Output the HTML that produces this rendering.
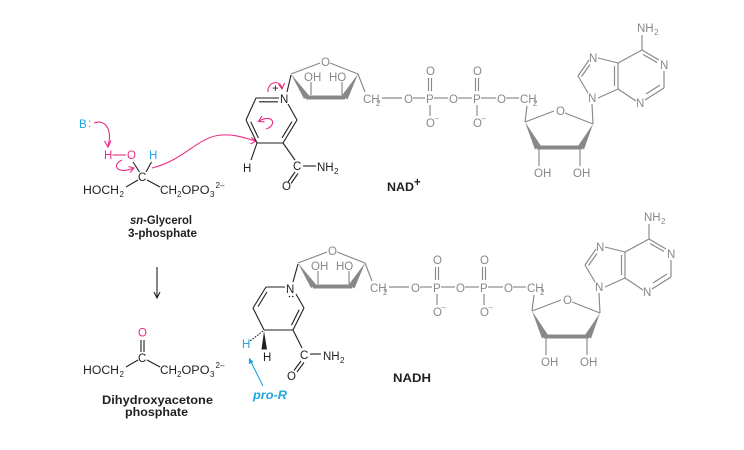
<!DOCTYPE html>
<html><head><meta charset="utf-8"><style>
html,body{margin:0;padding:0;background:#fff;}
svg{display:block;}
text{font-family:"Liberation Sans",sans-serif;}
.k{fill:#231f20;font-size:11.5px;}
.g{fill:#888888;font-size:11.5px;}
.s{font-size:8px;}
.b{font-weight:bold;}
.pk{fill:#ec2a85;font-size:11.5px;}
.bl{fill:#1fa5df;font-size:11.5px;}
</style></head><body>
<svg width="744" height="450" viewBox="0 0 744 450" xmlns="http://www.w3.org/2000/svg">
<rect width="744" height="450" fill="#fff"/>

<!-- ===== sn-Glycerol 3-phosphate ===== -->
<text class="bl" x="79" y="128">B</text><text class="bl" x="88" y="127">:</text>
<path d="M94,123 C104,119 113,128 108,146" fill="none" stroke="#ec2a85" stroke-width="1.1"/>
<polyline points="104.5,141 108,147 111,140.5" fill="none" stroke="#ec2a85" stroke-width="1.1"/>
<text class="pk" x="104" y="159">H</text>
<line x1="112.5" y1="155" x2="126" y2="155" stroke="#ec2a85" stroke-width="1.1"/>
<text class="pk" x="127" y="159">O</text>
<text class="bl" x="149" y="159">H</text>
<path d="M122,160 C111,165 117,175 134,168" fill="none" stroke="#ec2a85" stroke-width="1.1"/>
<polyline points="128.5,166.5 134,168 130,172.5" fill="none" stroke="#ec2a85" stroke-width="1.1"/>
<path d="M152,168 C185,160 198,136 222,135 C238,134 246,139 256,141" fill="none" stroke="#ec2a85" stroke-width="1.1"/>
<polyline points="251,137.5 256,141 250.5,144" fill="none" stroke="#ec2a85" stroke-width="1.1"/>
<text class="k" x="138" y="181">C</text>
<g stroke="#231f20" stroke-width="1.1">
<line x1="133" y1="162" x2="139.5" y2="172"/>
<line x1="151.5" y1="162" x2="146" y2="172"/>
<line x1="138" y1="180" x2="126" y2="187"/>
<line x1="147" y1="180" x2="160" y2="187"/>
</g>
<text class="k" x="83" y="194" textLength="36" lengthAdjust="spacingAndGlyphs">HOCH</text><text class="k s" x="119.5" y="197">2</text>
<text class="k" x="160" y="194" textLength="17" lengthAdjust="spacingAndGlyphs">CH</text><text class="k s" x="177" y="197">2</text>
<text class="k" x="181.5" y="194" textLength="28" lengthAdjust="spacingAndGlyphs">OPO</text><text class="k s" x="210" y="197">3</text>
<text class="k s" x="215.5" y="188">2–</text>
<text class="k b" x="130" y="224" font-size="12" textLength="62" lengthAdjust="spacingAndGlyphs"><tspan font-style="italic">sn</tspan>-Glycerol</text>
<text class="k b" x="128" y="237" font-size="12" textLength="69" lengthAdjust="spacingAndGlyphs">3-phosphate</text>

<!-- arrow down -->
<line x1="157" y1="267" x2="157" y2="298" stroke="#231f20" stroke-width="1.1"/>
<polyline points="154,292 157,298 160,292" fill="none" stroke="#231f20" stroke-width="1.1"/>

<!-- ===== DHAP ===== -->
<text class="pk" x="138" y="336.5">O</text>
<line x1="141" y1="340" x2="141" y2="352" stroke="#231f20" stroke-width="1.1"/>
<line x1="144" y1="340" x2="144" y2="352" stroke="#231f20" stroke-width="1.1"/>
<text class="k" x="138" y="362">C</text>
<g stroke="#231f20" stroke-width="1.1">
<line x1="138" y1="360" x2="126" y2="367"/>
<line x1="147" y1="360" x2="160" y2="367"/>
</g>
<text class="k" x="83" y="374" textLength="36" lengthAdjust="spacingAndGlyphs">HOCH</text><text class="k s" x="119.5" y="377">2</text>
<text class="k" x="160" y="374" textLength="17" lengthAdjust="spacingAndGlyphs">CH</text><text class="k s" x="177" y="377">2</text>
<text class="k" x="181.5" y="374" textLength="28" lengthAdjust="spacingAndGlyphs">OPO</text><text class="k s" x="210" y="377">3</text>
<text class="k s" x="215.5" y="368">2–</text>
<text class="k b" x="102" y="404" font-size="12" textLength="111" lengthAdjust="spacingAndGlyphs">Dihydroxyacetone</text>
<text class="k b" x="125" y="416" font-size="12" textLength="63" lengthAdjust="spacingAndGlyphs">phosphate</text>

<!-- ===== NAD+ nicotinamide ring ===== -->
<g stroke="#231f20" stroke-width="1.1" fill="none">
<line x1="256" y1="98" x2="279" y2="98"/>
<line x1="259" y1="101.8" x2="278" y2="101.8"/>
<line x1="288" y1="104" x2="297" y2="120"/>
<line x1="297" y1="120" x2="283" y2="143"/>
<line x1="291.9" y1="121.7" x2="282.1" y2="137.8"/>
<line x1="283" y1="143" x2="257" y2="143"/>
<line x1="257" y1="143" x2="246" y2="120"/>
<line x1="258.4" y1="137.9" x2="250.7" y2="121.8"/>
<line x1="246" y1="120" x2="256" y2="98"/>
<line x1="257" y1="143" x2="251" y2="160"/>
<line x1="283" y1="143" x2="295" y2="160"/>
<line x1="303" y1="166" x2="316" y2="166"/>
<line x1="295" y1="172" x2="288" y2="182"/>
<line x1="298" y1="173.5" x2="291" y2="183.5"/>
<line x1="287" y1="92" x2="291" y2="75"/>
</g>
<text class="k" x="280" y="103">N</text>
<text class="k" x="272" y="92" font-size="9">+</text>
<text class="k" x="243" y="172">H</text>
<text class="k" x="293" y="170">C</text>
<text class="k" x="317" y="171">NH</text><text class="k s" x="334" y="174">2</text>
<text class="k" x="282" y="190">O</text>
<!-- pink arrows on ring -->
<path d="M268,92 C267,82 280,79 282,88" fill="none" stroke="#ec2a85" stroke-width="1.1"/>
<polyline points="278.5,84 282,89 284.5,83" fill="none" stroke="#ec2a85" stroke-width="1.1"/>
<path d="M266,129 C277,126 274,113 259,121" fill="none" stroke="#ec2a85" stroke-width="1.1"/>
<polyline points="262,116 258.5,121.5 264.5,121.8" fill="none" stroke="#ec2a85" stroke-width="1.1"/>

<text class="k b" x="387" y="191" font-size="12.5" textLength="27" lengthAdjust="spacingAndGlyphs">NAD</text>
<text class="k b" x="414" y="186" font-size="10">+</text>

<!-- ===== NAD+ gray part ===== -->
<g>
<g stroke="#888888" stroke-width="1.15" fill="none">
<line x1="291" y1="74" x2="320" y2="63"/>
<line x1="330" y1="63" x2="358" y2="74"/>
<line x1="311" y1="95" x2="311" y2="82"/>
<line x1="342" y1="95" x2="342" y2="82"/>
<line x1="358" y1="74" x2="365" y2="92"/>
<line x1="306" y1="97.5" x2="345" y2="97.5" stroke-width="4"/>
<line x1="382" y1="98" x2="402" y2="98"/>
<line x1="413" y1="98" x2="425" y2="98"/>
<line x1="434" y1="98" x2="448" y2="98"/>
<line x1="458" y1="98" x2="472" y2="98"/>
<line x1="481" y1="98" x2="496" y2="98"/>
<line x1="506" y1="98" x2="519" y2="98"/>
<line x1="428.5" y1="78" x2="428.5" y2="91"/>
<line x1="431.5" y1="78" x2="431.5" y2="91"/>
<line x1="430" y1="105" x2="430" y2="116"/>
<line x1="475.5" y1="78" x2="475.5" y2="91"/>
<line x1="478.5" y1="78" x2="478.5" y2="91"/>
<line x1="477" y1="105" x2="477" y2="116"/>
<line x1="527" y1="106" x2="525" y2="122"/>
<line x1="525" y1="122" x2="554" y2="111"/>
<line x1="565" y1="113" x2="593" y2="124"/>
<line x1="593" y1="124" x2="592" y2="104"/>
<line x1="537" y1="147.5" x2="582" y2="147.5" stroke-width="4"/>
<line x1="539" y1="149" x2="539" y2="166"/>
<line x1="580" y1="149" x2="580" y2="166"/>
<line x1="588" y1="93" x2="578" y2="76"/>
<line x1="578" y1="76" x2="589" y2="60"/>
<line x1="581.5" y1="76.5" x2="590" y2="64.5"/>
<line x1="598" y1="58" x2="618" y2="63"/>
<line x1="618" y1="63" x2="618" y2="89"/>
<line x1="614.5" y1="66" x2="614.5" y2="86"/>
<line x1="618" y1="89" x2="598" y2="98"/>
<line x1="618" y1="63" x2="642" y2="50"/>
<line x1="642" y1="50" x2="642" y2="35"/>
<line x1="642" y1="50" x2="659" y2="60"/>
<line x1="643" y1="54.5" x2="657" y2="62.5"/>
<line x1="664" y1="71" x2="664" y2="88"/>
<line x1="664" y1="88" x2="645" y2="100"/>
<line x1="660" y1="85" x2="646" y2="94"/>
<line x1="636" y1="101" x2="618" y2="89"/>
</g>
<g fill="#888888">
<polygon points="291,74 304,99 309.5,96"/>
<polygon points="358,74 341.5,96 347.5,99.5"/>
<polygon points="525,122 535,149.5 541,146"/>
<polygon points="593,124 578,146 584,149.5"/>
</g>
<text class="g" x="321" y="66">O</text>
<text class="g" x="304" y="81">OH</text>
<text class="g" x="329" y="81">HO</text>
<text class="g" x="363" y="103">CH</text><text class="g s" x="376" y="106">2</text>
<text class="g" x="404" y="103">O</text>
<text class="g" x="426" y="103">P</text>
<text class="g" x="449" y="103">O</text>
<text class="g" x="473" y="103">P</text>
<text class="g" x="497" y="103">O</text>
<text class="g" x="520" y="103">CH</text><text class="g s" x="533" y="106">2</text>
<text class="g" x="426" y="75">O</text>
<text class="g" x="426" y="127">O</text><text class="g s" x="434.5" y="121">–</text>
<text class="g" x="473" y="75">O</text>
<text class="g" x="473" y="127">O</text><text class="g s" x="481.5" y="121">–</text>
<text class="g" x="556" y="115">O</text>
<text class="g" x="534" y="177">OH</text>
<text class="g" x="573" y="177">OH</text>
<text class="g" x="588" y="102">N</text>
<text class="g" x="589" y="62">N</text>
<text class="g" x="660" y="69">N</text>
<text class="g" x="636" y="107">N</text>
<text class="g" x="637" y="32">NH</text><text class="g s" x="654" y="35">2</text>
</g>

<!-- ===== NADH nicotinamide ring ===== -->
<g stroke="#231f20" stroke-width="1.1" fill="none">
<line x1="266" y1="287" x2="285" y2="287"/>
<line x1="296" y1="294" x2="304" y2="308"/>
<line x1="304" y1="308" x2="293" y2="330"/>
<line x1="299.2" y1="309.7" x2="291.5" y2="325.1"/>
<line x1="293" y1="330" x2="264" y2="330"/>
<line x1="264" y1="330" x2="253" y2="308"/>
<line x1="253" y1="308" x2="266" y2="287"/>
<line x1="258" y1="306.6" x2="267" y2="291.9"/>
<line x1="293" y1="282" x2="298" y2="264"/>
<line x1="293" y1="330" x2="302" y2="348"/>
<line x1="310" y1="354" x2="321" y2="354"/>
<line x1="301" y1="361" x2="294" y2="370.5"/>
<line x1="304" y1="362.5" x2="297" y2="372"/>
<line x1="263" y1="331" x2="250" y2="341" stroke-dasharray="1.6 1.3"/>
</g>
<polygon points="264,331 261.5,349.5 267,349.5" fill="#231f20"/>
<circle cx="289.5" cy="296.5" r="0.8" fill="#231f20"/>
<circle cx="292.8" cy="296.5" r="0.8" fill="#231f20"/>
<text class="k" x="286" y="293">N</text>
<text class="bl" x="242" y="348">H</text>
<text class="k" x="263" y="361">H</text>
<text class="k" x="300" y="359">C</text>
<text class="k" x="323" y="360">NH</text><text class="k s" x="340" y="363">2</text>
<text class="k" x="287" y="380">O</text>
<line x1="263" y1="386" x2="251" y2="362" stroke="#1fa5df" stroke-width="1.1"/>
<polygon points="249,357.5 253.6,362 248.8,364" fill="#1fa5df"/>
<text class="bl b" x="253" y="399" font-style="italic" textLength="34" lengthAdjust="spacingAndGlyphs">pro-R</text>

<text class="k b" x="393" y="382" font-size="12.5" textLength="38" lengthAdjust="spacingAndGlyphs">NADH</text>

<!-- ===== NADH gray part ===== -->
<g transform="translate(7,189)">
<g stroke="#888888" stroke-width="1.15" fill="none">
<line x1="291" y1="74" x2="320" y2="63"/>
<line x1="330" y1="63" x2="358" y2="74"/>
<line x1="311" y1="95" x2="311" y2="82"/>
<line x1="342" y1="95" x2="342" y2="82"/>
<line x1="358" y1="74" x2="365" y2="92"/>
<line x1="306" y1="97.5" x2="345" y2="97.5" stroke-width="4"/>
<line x1="382" y1="98" x2="402" y2="98"/>
<line x1="413" y1="98" x2="425" y2="98"/>
<line x1="434" y1="98" x2="448" y2="98"/>
<line x1="458" y1="98" x2="472" y2="98"/>
<line x1="481" y1="98" x2="496" y2="98"/>
<line x1="506" y1="98" x2="519" y2="98"/>
<line x1="428.5" y1="78" x2="428.5" y2="91"/>
<line x1="431.5" y1="78" x2="431.5" y2="91"/>
<line x1="430" y1="105" x2="430" y2="116"/>
<line x1="475.5" y1="78" x2="475.5" y2="91"/>
<line x1="478.5" y1="78" x2="478.5" y2="91"/>
<line x1="477" y1="105" x2="477" y2="116"/>
<line x1="527" y1="106" x2="525" y2="122"/>
<line x1="525" y1="122" x2="554" y2="111"/>
<line x1="565" y1="113" x2="593" y2="124"/>
<line x1="593" y1="124" x2="592" y2="104"/>
<line x1="537" y1="147.5" x2="582" y2="147.5" stroke-width="4"/>
<line x1="539" y1="149" x2="539" y2="166"/>
<line x1="580" y1="149" x2="580" y2="166"/>
<line x1="588" y1="93" x2="578" y2="76"/>
<line x1="578" y1="76" x2="589" y2="60"/>
<line x1="581.5" y1="76.5" x2="590" y2="64.5"/>
<line x1="598" y1="58" x2="618" y2="63"/>
<line x1="618" y1="63" x2="618" y2="89"/>
<line x1="614.5" y1="66" x2="614.5" y2="86"/>
<line x1="618" y1="89" x2="598" y2="98"/>
<line x1="618" y1="63" x2="642" y2="50"/>
<line x1="642" y1="50" x2="642" y2="35"/>
<line x1="642" y1="50" x2="659" y2="60"/>
<line x1="643" y1="54.5" x2="657" y2="62.5"/>
<line x1="664" y1="71" x2="664" y2="88"/>
<line x1="664" y1="88" x2="645" y2="100"/>
<line x1="660" y1="85" x2="646" y2="94"/>
<line x1="636" y1="101" x2="618" y2="89"/>
</g>
<g fill="#888888">
<polygon points="291,74 304,99 309.5,96"/>
<polygon points="358,74 341.5,96 347.5,99.5"/>
<polygon points="525,122 535,149.5 541,146"/>
<polygon points="593,124 578,146 584,149.5"/>
</g>
<text class="g" x="321" y="66">O</text>
<text class="g" x="304" y="81">OH</text>
<text class="g" x="329" y="81">HO</text>
<text class="g" x="363" y="103">CH</text><text class="g s" x="376" y="106">2</text>
<text class="g" x="404" y="103">O</text>
<text class="g" x="426" y="103">P</text>
<text class="g" x="449" y="103">O</text>
<text class="g" x="473" y="103">P</text>
<text class="g" x="497" y="103">O</text>
<text class="g" x="520" y="103">CH</text><text class="g s" x="533" y="106">2</text>
<text class="g" x="426" y="75">O</text>
<text class="g" x="426" y="127">O</text><text class="g s" x="434.5" y="121">–</text>
<text class="g" x="473" y="75">O</text>
<text class="g" x="473" y="127">O</text><text class="g s" x="481.5" y="121">–</text>
<text class="g" x="556" y="115">O</text>
<text class="g" x="534" y="177">OH</text>
<text class="g" x="573" y="177">OH</text>
<text class="g" x="588" y="102">N</text>
<text class="g" x="589" y="62">N</text>
<text class="g" x="660" y="69">N</text>
<text class="g" x="636" y="107">N</text>
<text class="g" x="637" y="32">NH</text><text class="g s" x="654" y="35">2</text>
</g>
</svg>
</body></html>
